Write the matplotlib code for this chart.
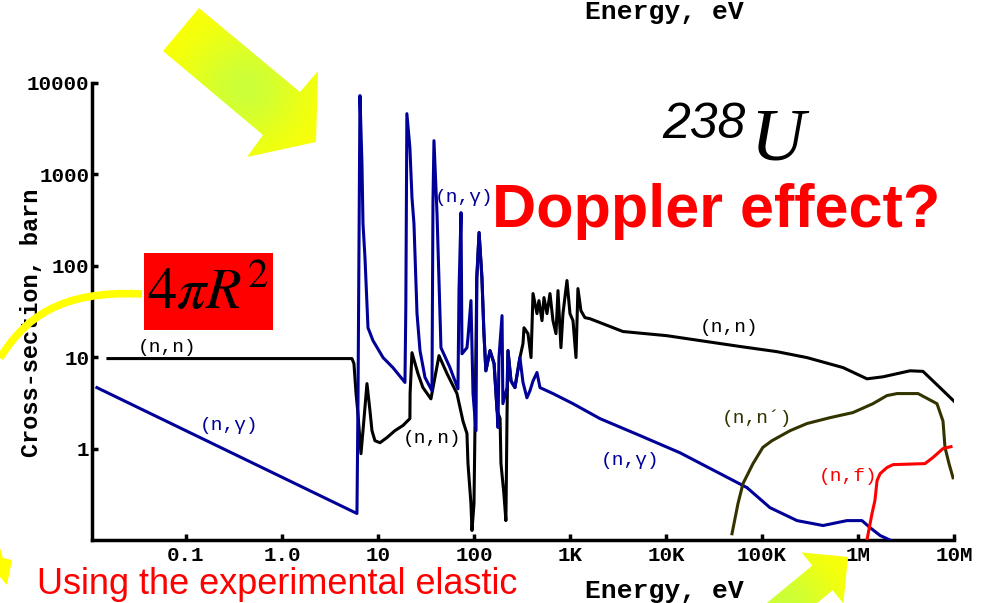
import matplotlib.pyplot as plt
import numpy as np
from matplotlib.patches import Polygon, Rectangle, PathPatch
from matplotlib.path import Path
from matplotlib.ticker import NullLocator

# U-238 cross sections: energy in eV, cross-section in barn
# (n,n) elastic
elastic_E = [0.0154, 5.36, 5.62, 5.90, 6.19, 6.65, 6.98, 7.68, 8.25, 8.66, 9.3,
             10.5, 12.4, 15.0, 18.2, 21.5, 21.6, 22.6, 26.1, 29.4, 35.6, 43.2,
             52.4, 66.5, 76.8, 84.5, 86.6, 93, 95.3, 100, 102, 107, 113, 121,
             127, 133, 147, 162, 174, 187, 191, 205, 215, 221, 226, 243, 267,
             301, 324, 332, 365, 393, 412, 453, 475, 511, 536, 576, 619, 665,
             715, 750, 805, 845, 930, 1000, 1075, 1155, 1210, 1300, 1430, 1610,
             3560, 10200, 22600, 59000, 143000, 294000, 698000, 1.24e6, 1.82e6,
             3.48e6, 4.75e6, 7.14e6, 1.0e7]
elastic_xs = [9.66, 9.66, 8.5, 4.1, 2.4, 0.88, 1.57, 5.14, 2.6, 1.57, 1.22,
              1.16, 1.32, 1.57, 1.79, 2.13, 4.0, 11.2, 6.6, 4.65, 3.5, 10.4,
              6.6, 4.0, 2.0, 1.46, 0.685, 0.25, 0.127, 0.25, 1.22, 74, 231, 74,
              18.1, 7.1, 11.8, 8.5, 2.6, 2.13, 0.685, 0.32, 0.163, 2.4, 11.8,
              5.5, 4.65, 9.9, 14.1, 21, 18.1, 9.9, 49.7, 30, 41.6, 25.1, 44.9,
              30, 49.7, 25.1, 18.1, 53.5, 12.7, 30, 69, 30, 25.1, 9.9, 56.3,
              32.3, 27.1, 26.4, 19.1, 17.2, 15.2, 13.1, 11.5, 9.9, 7.7, 5.8,
              6.1, 7.1, 7.0, 4.65, 3.3]

# (n,gamma) capture
capture_E = [0.0118, 6.04, 6.19, 6.49, 6.81, 6.98, 7.32, 7.87, 8.87, 11.3, 14.3,
             19.1, 19.5, 20.0, 21.5, 22.6, 23.7, 25.5, 27.4, 30.9, 36.5, 37.4,
             38.3, 41.2, 43.2, 45.3, 56.2, 68.1, 69.8, 73.3, 75, 84.5, 86.6, 93,
             97.7, 105, 107, 113, 121, 127, 133, 147, 162, 174, 178, 182, 196,
             200, 221, 226, 243, 267, 301, 324, 356, 383, 412, 453, 487, 665,
             1075, 2050, 5350, 14000, 69800, 121000, 232000, 432000, 767000,
             1.1e6, 1.33e6, 1.7e6, 2.15e6]
capture_xs = [4.65, 0.195, 3.1, 7280, 1310, 290, 123, 21, 15.2, 9.9, 7.7,
              5.3, 34.9, 4620, 1960, 557, 290, 30, 11.8, 6.0, 4.3, 517,
              2340, 373, 69, 12.7, 7.7, 4.5, 53.5, 382, 10.9, 12.7, 16.4, 41.6,
              4.0, 1.57, 74, 231, 74, 18.1, 7.1, 11.8, 8.5, 2.6, 1.7, 9.9, 28.5,
              3.1, 4.65, 11.8, 5.5, 4.65, 9.9, 5.3, 3.6, 4.3, 5.5, 6.8, 4.65, 4.0,
              3.1, 2.13, 1.39, 0.90, 0.374, 0.226, 0.163, 0.144, 0.163,
              0.163, 0.137, 0.112, 0.1]

# (n,n') inelastic
inelastic_E = [48700, 56200, 63400, 80600, 102000, 127000, 196000, 294000,
               511000, 887000, 1.43e6, 2.0e6, 2.55e6, 4.22e6, 6.65e6, 7.68e6,
               8.06e6, 8.87e6, 9.77e6]
inelastic_xs = [0.117, 0.25, 0.414, 0.685, 1.03, 1.22, 1.57, 1.88, 2.18, 2.48,
                3.1, 3.8, 4.0, 4.0, 3.1, 2.0, 1.03, 0.685, 0.48]

# (n,f) fission
fission_E = [1.24e6, 1.40e6, 1.50e6, 1.58e6, 1.70e6, 2.0e6, 2.32e6, 4.99e6,
             6.04e6, 7.68e6, 9.3e6]
fission_xs = [0.1, 0.195, 0.27, 0.447, 0.532, 0.62, 0.668, 0.685, 0.80, 1.0, 1.05]

xtick_vals = [0.1, 1, 10, 100, 1e3, 1e4, 1e5, 1e6, 1e7]
xtick_labels = ['0.1', '1.0', '10', '100', '1K', '10K', '100K', '1M', '10M']
ytick_vals = [1, 10, 100, 1000, 10000]
ytick_labels = ['1', '10', '100', '1000', '10000']

W, H = 983, 603
MONO = 'Liberation Mono'
BLUE = '#000099'
OLIVE = '#333300'
RED = '#ff0000'
YELLOW = '#ffff00'

plt.rcParams['mathtext.fontset'] = 'stix'


def main():
    fig = plt.figure(figsize=(W / 100, H / 100), dpi=100)
    ax = fig.add_axes([92 / W, 1 - 540 / H, 862 / W, 457 / H])
    draw_curves(ax)
    style_axes(fig, ax)

    # overlay in pixel units for the slide decorations
    over = fig.add_axes([0, 0, 1, 1], zorder=5)
    over.patch.set_alpha(0)
    draw_decorations(over)
    over.set_xlim(0, W)
    over.set_ylim(H, 0)
    over.set_aspect('auto')
    over.axis('off')

    fig.savefig('out.png', dpi=100)


def draw_curves(ax):
    ax.plot(elastic_E, elastic_xs, color='black', lw=2.2, zorder=2)
    ax.plot(capture_E, capture_xs, color=BLUE, lw=2.2, zorder=3)
    ax.plot(inelastic_E, inelastic_xs, color=OLIVE, lw=2.2, zorder=4)
    ax.plot(fission_E, fission_xs, color=RED, lw=2.2, zorder=5)
    ax.set_xscale('log')
    ax.set_yscale('log')
    ax.set_xlim(0.0105, 1e7)
    ax.set_ylim(0.1, 1e4)

    lab = dict(family=MONO, fontsize=14, ha='center', va='center')
    ax.text(0.0634, 12.7, '(n,n)', color='black', **lab)
    ax.text(0.28, 1.79, '(n,γ)', color=BLUE, **lab)
    ax.text(78.7, 557, '(n,γ)', color=BLUE, **lab)
    ax.text(36.5, 1.29, '(n,n)', color='black', **lab)
    ax.text(4220, 0.74, '(n,γ)', color=BLUE, **lab)
    ax.text(46000, 21, '(n,n)', color='black', **lab)
    ax.text(88700, 2.13, '(n,n´)', color=OLIVE, **lab)
    ax.text(787000, 0.494, '(n,f)', color=RED, **lab)


def style_axes(fig, ax):
    for s in ['top', 'right']:
        ax.spines[s].set_visible(False)
    for s in ['left', 'bottom']:
        ax.spines[s].set_linewidth(2.5)
    ax.xaxis.set_minor_locator(NullLocator())
    ax.yaxis.set_minor_locator(NullLocator())
    ax.set_xticks(xtick_vals)
    ax.set_xticklabels(xtick_labels, family=MONO, weight='bold', fontsize=15)
    ax.set_yticks(ytick_vals)
    ax.set_yticklabels(ytick_labels, family=MONO, weight='bold', fontsize=15)
    ax.tick_params(axis='x', direction='in', length=4, width=2.5, pad=4)
    ax.tick_params(axis='y', direction='in', length=4, width=2.5, pad=2)
    fig.text(32 / W, 1 - 323 / H, 'Cross-section, barn', rotation=90,
             family=MONO, weight='bold', fontsize=17, ha='center', va='center')


def gradient_patch(over, pts, center, scale):
    poly = Polygon(pts, closed=True, facecolor='none', edgecolor='none')
    over.add_patch(poly)
    xs = [p[0] for p in pts]
    ys = [p[1] for p in pts]
    x0, x1, y0, y1 = min(xs), max(xs), min(ys), max(ys)
    gx, gy = np.meshgrid(np.linspace(x0, x1, 200), np.linspace(y0, y1, 200))
    t = np.exp(-((gx - center[0]) ** 2 + (gy - center[1]) ** 2) / scale ** 2)
    yellow = np.array([1.0, 1.0, 0.0])
    green = np.array([0.80, 1.0, 0.22])
    img = yellow * (1 - t[..., None]) + green * t[..., None]
    im = over.imshow(img, extent=(x0, x1, y1, y0), origin='upper',
                     interpolation='bilinear', zorder=1)
    im.set_clip_path(poly)


def arrow_pts(tip, d, head_len, head_half, shaft_half, total):
    d = np.array(d) / np.hypot(*d)
    n = np.array([-d[1], d[0]])
    tip = np.array(tip, dtype=float)
    base = tip - head_len * d
    tail = tip - total * d
    return [tip, base + head_half * n, base + shaft_half * n,
            tail + shaft_half * n, tail - shaft_half * n,
            base - shaft_half * n, base - head_half * n]


def draw_decorations(over):
    # big arrow top
    top_arrow = [(163, 51), (199, 8), (300, 92), (318, 71), (316, 142),
                 (247, 157), (263, 135)]
    gradient_patch(over, top_arrow, (245, 88), 60)

    # arrow at the bottom right, mostly off the slide
    br = arrow_pts((848, 557), (0.78, -0.64), 33, 33, 16, 220)
    gradient_patch(over, br, (785, 605), 50)

    # bit of arrow at bottom left
    over.add_patch(Polygon([(0, 548), (3, 558), (12, 560), (7, 585), (0, 577)],
                           closed=True, facecolor=YELLOW, edgecolor='none'))

    # curved yellow line to the box
    curve = Path([(0, 358), (25, 318), (60, 290), (142, 294)],
                 [Path.MOVETO, Path.CURVE4, Path.CURVE4, Path.CURVE4])
    over.add_patch(PathPatch(curve, facecolor='none', edgecolor=YELLOW,
                             lw=5.5, zorder=2))

    over.add_patch(Rectangle((144, 253), 129, 77, facecolor=RED,
                             edgecolor='none', zorder=3))
    over.text(208, 293, r'$4\pi R^{2}$', fontsize=42, ha='center',
              va='center', zorder=4)

    over.text(662, 138, '238', family='Liberation Sans', style='italic',
              fontsize=36, va='baseline', ha='left')
    over.text(750, 160, 'U', family='Liberation Serif', style='italic',
              fontsize=54, va='baseline', ha='left')
    over.text(492, 227, 'Doppler effect?', family='Liberation Sans',
              weight='bold', fontsize=44, color=RED, va='baseline', ha='left')
    over.text(37, 594, 'Using the experimental elastic',
              family='Liberation Sans', fontsize=26, color=RED,
              va='baseline', ha='left')

    for yb in [19, 598]:
        over.text(664, yb, 'Energy, eV', family=MONO, weight='bold',
                  fontsize=19, ha='center', va='baseline')


if __name__ == '__main__':
    main()
